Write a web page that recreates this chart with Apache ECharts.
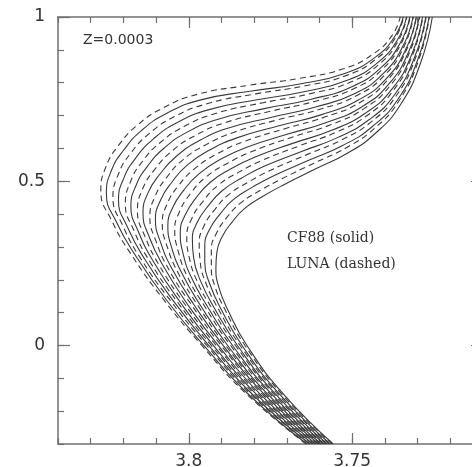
<!DOCTYPE html>
<html>
<head>
<meta charset="utf-8">
<script src="https://cdn.jsdelivr.net/npm/echarts@6/dist/echarts.min.js"></script>
<style>html,body{margin:0;padding:0;background:#fff;}#c{width:472px;height:467px;}</style>
</head>
<body>
<div id="c"></div>
<script>
// Tick values
const xMajorTicks = [3.75, 3.8];
const yMajorTicks = [0, 0.5, 1];
const annotations = ['Z=0.0003', 'CF88 (solid)', 'LUNA (dashed)'];

// CF88 (solid) isochrones: [logTeff, logL]
const solid0 = [[3.7638,-0.30],[3.7816,-0.15],[3.7954,0],[3.8067,0.137],[3.8163,0.274],[3.8221,0.375],[3.8252,0.463],[3.8236,0.534],[3.8199,0.595],[3.8144,0.655],[3.8067,0.707],[3.7966,0.747],[3.7813,0.774],[3.7660,0.796],[3.7521,0.829],[3.7429,0.878],[3.7371,0.939],[3.7344,1.0]];
const solid1 = [[3.7629,-0.30],[3.7804,-0.15],[3.7939,0],[3.8046,0.134],[3.8135,0.263],[3.8187,0.359],[3.8215,0.443],[3.8198,0.511],[3.8162,0.571],[3.8108,0.629],[3.8035,0.679],[3.7938,0.718],[3.7791,0.748],[3.7644,0.773],[3.7511,0.809],[3.7421,0.862],[3.7362,0.930],[3.7334,1.0]];
const solid2 = [[3.7620,-0.30],[3.7792,-0.15],[3.7925,0],[3.8025,0.130],[3.8106,0.252],[3.8153,0.344],[3.8177,0.424],[3.8161,0.488],[3.8126,0.546],[3.8074,0.602],[3.8002,0.651],[3.7910,0.689],[3.7769,0.721],[3.7628,0.749],[3.7501,0.788],[3.7412,0.846],[3.7353,0.921],[3.7324,1.0]];
const solid3 = [[3.7611,-0.30],[3.7780,-0.15],[3.7910,0],[3.8005,0.127],[3.8078,0.242],[3.8120,0.328],[3.8140,0.403],[3.8124,0.466],[3.8088,0.522],[3.8038,0.576],[3.7969,0.623],[3.7881,0.661],[3.7746,0.695],[3.7612,0.726],[3.7490,0.768],[3.7404,0.829],[3.7344,0.913],[3.7314,1.0]];
const solid4 = [[3.7602,-0.30],[3.7768,-0.15],[3.7895,0],[3.7984,0.124],[3.8050,0.231],[3.8086,0.313],[3.8102,0.383],[3.8086,0.443],[3.8052,0.497],[3.8004,0.550],[3.7936,0.595],[3.7853,0.632],[3.7724,0.669],[3.7596,0.702],[3.7480,0.748],[3.7395,0.813],[3.7335,0.904],[3.7304,1.0]];
const solid5 = [[3.7594,-0.30],[3.7757,-0.15],[3.7881,0],[3.7963,0.120],[3.8021,0.220],[3.8052,0.297],[3.8064,0.364],[3.8049,0.420],[3.8015,0.473],[3.7968,0.523],[3.7904,0.566],[3.7825,0.603],[3.7702,0.642],[3.7579,0.679],[3.7470,0.727],[3.7387,0.797],[3.7327,0.895],[3.7295,1.0]];
const solid6 = [[3.7585,-0.30],[3.7745,-0.15],[3.7866,0],[3.7942,0.117],[3.7993,0.209],[3.8018,0.282],[3.8026,0.344],[3.8011,0.397],[3.7979,0.448],[3.7934,0.497],[3.7871,0.538],[3.7797,0.574],[3.7680,0.616],[3.7563,0.655],[3.7460,0.707],[3.7378,0.781],[3.7318,0.886],[3.7285,1.0]];
const solid7 = [[3.7576,-0.30],[3.7733,-0.15],[3.7851,0],[3.7922,0.114],[3.7965,0.199],[3.7985,0.266],[3.7989,0.323],[3.7974,0.375],[3.7941,0.424],[3.7898,0.471],[3.7838,0.510],[3.7768,0.546],[3.7657,0.590],[3.7547,0.632],[3.7449,0.687],[3.7370,0.764],[3.7309,0.878],[3.7275,1.0]];
const solid8 = [[3.7567,-0.30],[3.7721,-0.15],[3.7837,0],[3.7901,0.110],[3.7936,0.188],[3.7951,0.251],[3.7951,0.304],[3.7937,0.352],[3.7905,0.399],[3.7864,0.444],[3.7805,0.482],[3.7740,0.517],[3.7635,0.563],[3.7531,0.608],[3.7439,0.666],[3.7361,0.748],[3.7300,0.869],[3.7265,1.0]];
const solid9 = [[3.7558,-0.30],[3.7709,-0.15],[3.7822,0],[3.7880,0.107],[3.7908,0.177],[3.7917,0.235],[3.7914,0.284],[3.7899,0.329],[3.7868,0.375],[3.7828,0.418],[3.7773,0.454],[3.7712,0.488],[3.7613,0.537],[3.7515,0.585],[3.7429,0.646],[3.7353,0.732],[3.7291,0.860],[3.7255,1.0]];

// LUNA (dashed) isochrones
const dashed0 = [[3.7641,-0.30],[3.7821,-0.15],[3.7960,0],[3.8075,0.137],[3.8174,0.274],[3.8235,0.379],[3.8269,0.471],[3.8253,0.545],[3.8215,0.609],[3.8157,0.671],[3.8077,0.724],[3.7972,0.765],[3.7817,0.792],[3.7663,0.813],[3.7525,0.843],[3.7435,0.888],[3.7378,0.944],[3.7353,1.0]];
const dashed1 = [[3.7632,-0.30],[3.7809,-0.15],[3.7945,0],[3.8054,0.134],[3.8146,0.263],[3.8201,0.363],[3.8232,0.451],[3.8215,0.522],[3.8178,0.585],[3.8121,0.645],[3.8045,0.696],[3.7944,0.736],[3.7795,0.766],[3.7647,0.790],[3.7515,0.823],[3.7427,0.872],[3.7369,0.935],[3.7343,1.0]];
const dashed2 = [[3.7623,-0.30],[3.7797,-0.15],[3.7931,0],[3.8033,0.130],[3.8117,0.252],[3.8167,0.348],[3.8194,0.432],[3.8178,0.499],[3.8142,0.560],[3.8087,0.618],[3.8012,0.668],[3.7916,0.707],[3.7773,0.739],[3.7631,0.766],[3.7505,0.802],[3.7418,0.856],[3.7360,0.926],[3.7333,1.0]];
const dashed3 = [[3.7614,-0.30],[3.7785,-0.15],[3.7916,0],[3.8013,0.127],[3.8089,0.242],[3.8134,0.332],[3.8157,0.411],[3.8141,0.477],[3.8104,0.536],[3.8051,0.592],[3.7979,0.640],[3.7887,0.679],[3.7750,0.713],[3.7615,0.743],[3.7494,0.782],[3.7410,0.839],[3.7351,0.918],[3.7323,1.0]];
const dashed4 = [[3.7605,-0.30],[3.7773,-0.15],[3.7901,0],[3.7992,0.124],[3.8061,0.231],[3.8100,0.317],[3.8119,0.391],[3.8103,0.454],[3.8068,0.511],[3.8017,0.566],[3.7946,0.612],[3.7859,0.650],[3.7728,0.687],[3.7599,0.719],[3.7484,0.762],[3.7401,0.823],[3.7342,0.909],[3.7313,1.0]];
const dashed5 = [[3.7597,-0.30],[3.7762,-0.15],[3.7887,0],[3.7971,0.120],[3.8032,0.220],[3.8066,0.301],[3.8081,0.372],[3.8066,0.431],[3.8031,0.487],[3.7981,0.539],[3.7914,0.583],[3.7831,0.621],[3.7706,0.660],[3.7582,0.696],[3.7474,0.741],[3.7393,0.807],[3.7334,0.900],[3.7304,1.0]];
const dashed6 = [[3.7588,-0.30],[3.7750,-0.15],[3.7872,0],[3.7950,0.117],[3.8004,0.209],[3.8032,0.286],[3.8043,0.352],[3.8028,0.408],[3.7995,0.462],[3.7947,0.513],[3.7881,0.555],[3.7803,0.592],[3.7684,0.634],[3.7566,0.672],[3.7464,0.721],[3.7384,0.791],[3.7325,0.891],[3.7294,1.0]];
const dashed7 = [[3.7579,-0.30],[3.7738,-0.15],[3.7857,0],[3.7930,0.114],[3.7976,0.199],[3.7999,0.270],[3.8006,0.331],[3.7991,0.386],[3.7957,0.438],[3.7911,0.487],[3.7848,0.527],[3.7774,0.564],[3.7661,0.608],[3.7550,0.649],[3.7453,0.701],[3.7376,0.774],[3.7316,0.883],[3.7284,1.0]];
const dashed8 = [[3.7570,-0.30],[3.7726,-0.15],[3.7843,0],[3.7909,0.110],[3.7947,0.188],[3.7965,0.255],[3.7968,0.312],[3.7954,0.363],[3.7921,0.413],[3.7877,0.460],[3.7815,0.499],[3.7746,0.535],[3.7639,0.581],[3.7534,0.625],[3.7443,0.680],[3.7367,0.758],[3.7307,0.874],[3.7274,1.0]];
const dashed9 = [[3.7561,-0.30],[3.7714,-0.15],[3.7828,0],[3.7888,0.107],[3.7919,0.177],[3.7931,0.239],[3.7931,0.292],[3.7916,0.340],[3.7884,0.389],[3.7841,0.434],[3.7783,0.471],[3.7718,0.506],[3.7617,0.555],[3.7518,0.602],[3.7433,0.660],[3.7359,0.742],[3.7298,0.865],[3.7264,1.0]];

const solidCurves = [solid0, solid1, solid2, solid3, solid4, solid5, solid6, solid7, solid8, solid9];
const dashedCurves = [dashed0, dashed1, dashed2, dashed3, dashed4, dashed5, dashed6, dashed7, dashed8, dashed9];

const AX = '#707070';
const LINE = '#3a3a3a';
const XMIN = 3.71, XMAX = 3.84, YMIN = -0.3, YMAX = 1;

function xAxisDef(pos, major, labels) {
  return {
    type: 'value', position: pos, inverse: true, min: XMIN, max: XMAX, interval: 0.01,
    axisLine: { show: major, onZero: false, lineStyle: { color: AX, width: 1.5 } },
    axisTick: major ? { show: true, inside: true, length: 11, customValues: xMajorTicks, lineStyle: { color: AX, width: 1.2 } }
                    : { show: true, inside: true, length: 6, lineStyle: { color: AX, width: 1.2 } },
    axisLabel: labels ? { show: true, customValues: xMajorTicks, margin: 9, color: '#333', fontSize: 17, fontFamily: 'DejaVu Sans' } : { show: false },
    splitLine: { show: false }
  };
}
function yAxisDef(pos, major, labels) {
  return {
    type: 'value', position: pos, min: YMIN, max: YMAX, interval: 0.1,
    axisLine: { show: major, onZero: false, lineStyle: { color: AX, width: 1.5 } },
    axisTick: major ? { show: true, inside: true, length: 12, customValues: yMajorTicks, lineStyle: { color: AX, width: 1.2 } }
                    : { show: true, inside: true, length: 6, lineStyle: { color: AX, width: 1.2 } },
    axisLabel: labels ? { show: true, customValues: yMajorTicks, margin: 13, color: '#333', fontSize: 17, fontFamily: 'DejaVu Sans' } : { show: false },
    splitLine: { show: false }
  };
}

const series = [];
solidCurves.forEach((c, i) => series.push({
  type: 'line', name: 'CF88 ' + i, data: c, smooth: 0.5, showSymbol: false, clip: true,
  xAxisIndex: 0, yAxisIndex: 0,
  lineStyle: { color: LINE, width: 1.1, type: 'solid' }
}));
dashedCurves.forEach((c, i) => series.push({
  type: 'line', name: 'LUNA ' + i, data: c, smooth: 0.5, showSymbol: false, clip: true,
  xAxisIndex: 0, yAxisIndex: 0,
  lineStyle: { color: LINE, width: 1.1, type: [6, 4] }
}));

const chart = echarts.init(document.getElementById('c'), null, { renderer: 'canvas' });
chart.setOption({
  animation: false,
  backgroundColor: '#fff',
  grid: { left: 58, top: 17, width: 425, height: 427, containLabel: false, outerBoundsMode: 'none' },
  xAxis: [xAxisDef('bottom', true, true), xAxisDef('bottom', false, false), xAxisDef('top', true, false), xAxisDef('top', false, false)],
  yAxis: [yAxisDef('left', true, true), yAxisDef('left', false, false), yAxisDef('right', true, false), yAxisDef('right', false, false)],
  series: series,
  graphic: [
    { type: 'text', left: 83, top: 33, style: { text: annotations[0], fill: '#333', font: '14px "DejaVu Sans"' } },
    { type: 'text', left: 287, top: 231, style: { text: annotations[1], fill: '#333', font: '14px "DejaVu Serif"' } },
    { type: 'text', left: 287, top: 257, style: { text: annotations[2], fill: '#333', font: '14px "DejaVu Serif"' } }
  ]
});
</script>
</body>
</html>
